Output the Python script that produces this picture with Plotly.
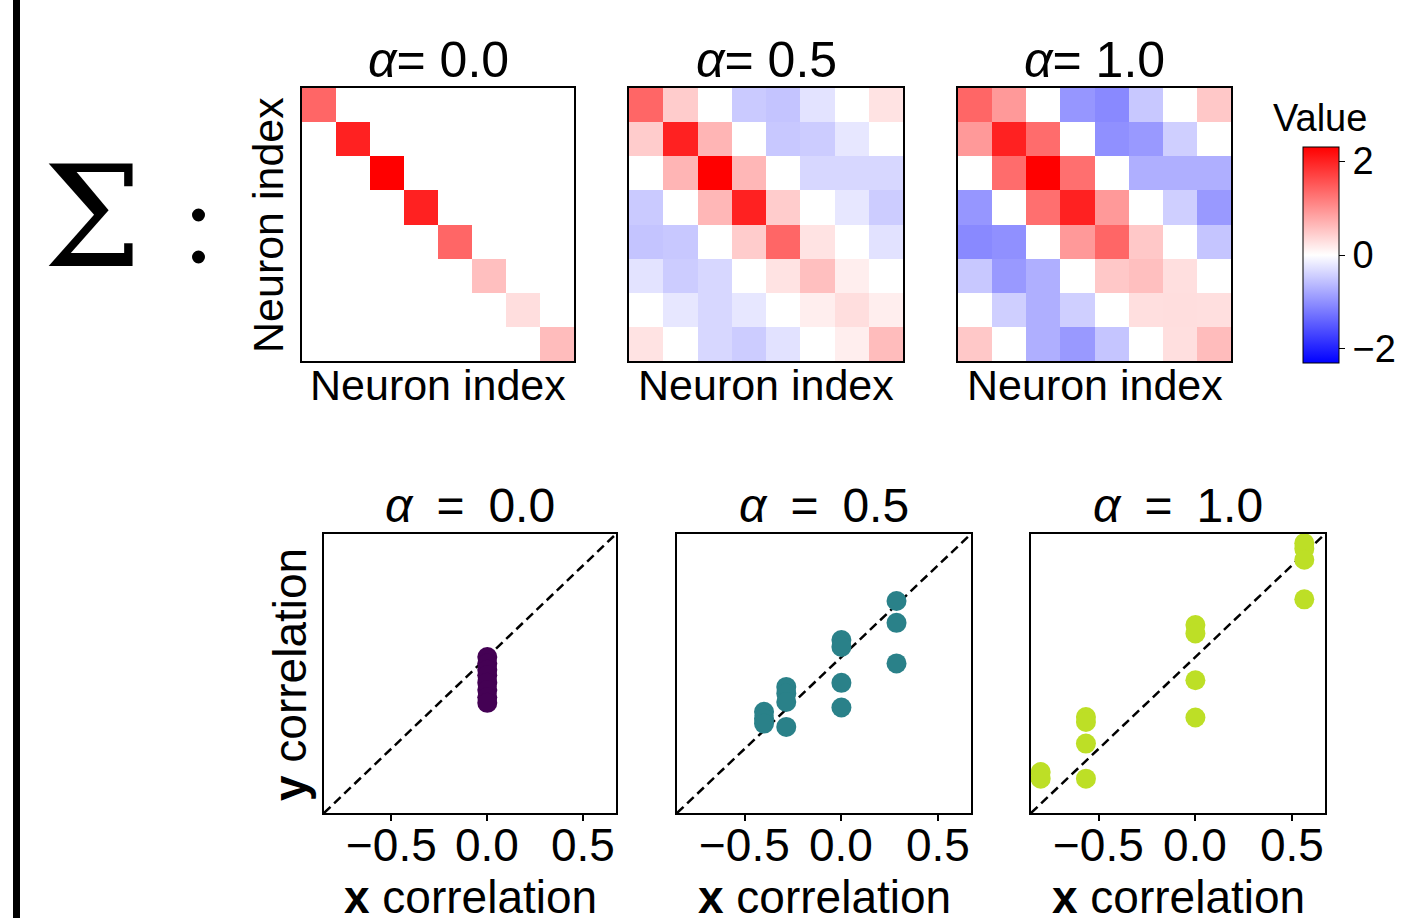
import plotly.graph_objects as go

W, H = 1407, 918
FONT = "Liberation Sans"

# ---------------- data ----------------
alpha_labels = ["0.0", "0.5", "1.0"]

sigma_a00 = [
    [1.38, 0.00, 0.00, 0.00, 0.00, 0.00, 0.00, 0.00],
    [0.00, 2.00, 0.00, 0.00, 0.00, 0.00, 0.00, 0.00],
    [0.00, 0.00, 2.30, 0.00, 0.00, 0.00, 0.00, 0.00],
    [0.00, 0.00, 0.00, 2.00, 0.00, 0.00, 0.00, 0.00],
    [0.00, 0.00, 0.00, 0.00, 1.38, 0.00, 0.00, 0.00],
    [0.00, 0.00, 0.00, 0.00, 0.00, 0.58, 0.00, 0.00],
    [0.00, 0.00, 0.00, 0.00, 0.00, 0.00, 0.30, 0.00],
    [0.00, 0.00, 0.00, 0.00, 0.00, 0.00, 0.00, 0.60],
]
sigma_a05 = [
    [1.38, 0.46, 0.00, -0.48, -0.53, -0.25, 0.00, 0.25],
    [0.46, 2.00, 0.67, 0.00, -0.50, -0.46, -0.22, 0.00],
    [0.00, 0.67, 2.30, 0.65, 0.00, -0.36, -0.36, -0.36],
    [-0.48, 0.00, 0.65, 2.00, 0.46, 0.00, -0.22, -0.46],
    [-0.53, -0.50, 0.00, 0.46, 1.38, 0.25, 0.00, -0.26],
    [-0.25, -0.46, -0.36, 0.00, 0.25, 0.58, 0.15, 0.00],
    [0.00, -0.22, -0.36, -0.22, 0.00, 0.15, 0.30, 0.15],
    [0.25, 0.00, -0.36, -0.46, -0.26, 0.00, 0.15, 0.60],
]
sigma_a10 = [
    [1.38, 0.92, 0.00, -0.95, -1.06, -0.50, 0.00, 0.50],
    [0.92, 2.00, 1.33, 0.00, -1.00, -0.92, -0.43, 0.00],
    [0.00, 1.33, 2.30, 1.30, 0.00, -0.72, -0.72, -0.72],
    [-0.95, 0.00, 1.30, 2.00, 0.92, 0.00, -0.43, -0.92],
    [-1.06, -1.00, 0.00, 0.92, 1.38, 0.50, 0.00, -0.52],
    [-0.50, -0.92, -0.72, 0.00, 0.50, 0.58, 0.29, 0.00],
    [0.00, -0.43, -0.72, -0.43, 0.00, 0.29, 0.30, 0.29],
    [0.50, 0.00, -0.72, -0.92, -0.52, 0.00, 0.29, 0.60],
]
sigmas = [sigma_a00, sigma_a05, sigma_a10]
value_min, value_max = -2.3, 2.3
cbar_ticks = [-2, 0, 2]
cbar_ticktext = ["\u22122", "0", "2"]

x_corr_a00 = [0.0, 0.0, 0.0, 0.0, 0.0, 0.0, 0.0, 0.0]
y_corr_a00 = [0.0, -0.035, -0.07, -0.10, -0.14, -0.18, -0.22, -0.25]
x_corr_a05 = [0.285, 0.285, 0.285, 0.0, 0.0, 0.0, 0.0,
              -0.285, -0.285, -0.285, -0.285, -0.40, -0.40, -0.40]
y_corr_a05 = [0.305, 0.186, -0.035, 0.092, 0.055, -0.141, -0.275,
              -0.163, -0.199, -0.245, -0.381, -0.299, -0.336, -0.363]
x_corr_a10 = [-0.80, -0.80, -0.566, -0.566, -0.566, -0.566, 0.0, 0.0, 0.0, 0.0,
              0.563, 0.563, 0.563, 0.563]
y_corr_a10 = [-0.627, -0.663, -0.327, -0.354, -0.472, -0.663, 0.174, 0.128, -0.127, -0.33,
              0.62, 0.59, 0.53, 0.314]
xs = [x_corr_a00, x_corr_a05, x_corr_a10]
ys = [y_corr_a00, y_corr_a05, y_corr_a10]
scatter_colors = ["#440154", "#2a8189", "#bddf26"]
corr_lims = [-0.85, 0.67]
corr_ticks = [-0.5, 0.0, 0.5]
corr_ticktext = ["\u22120.5", "0.0", "0.5"]

# ---------------- layout helpers ----------------
def dom_x(a, b):
    return [a / W, b / W]

def dom_y(top, bottom):
    return [1 - bottom / H, 1 - top / H]

heat_boxes = [(302, 574, 88, 361), (629, 903, 88, 361), (958, 1231, 88, 361)]
scat_boxes = [(324, 616, 534, 813), (677, 971, 534, 813), (1031, 1325, 534, 813)]

bwr = [[0.0, "rgb(0,0,255)"], [0.5, "rgb(255,255,255)"], [1.0, "rgb(255,0,0)"]]

fig = go.Figure()
layout = dict(
    width=W, height=H, autosize=False,
    margin=dict(l=0, r=0, t=0, b=0),
    paper_bgcolor="white", plot_bgcolor="white",
    showlegend=False,
    font=dict(family=FONT, color="black"),
)

annotations = []
n = 8
idx = list(range(n))

for i, (x0, x1, y0, y1) in enumerate(heat_boxes):
    k = i + 1
    xa = "x" if k == 1 else f"x{k}"
    ya = "y" if k == 1 else f"y{k}"
    tr = go.Heatmap(
        z=sigmas[i], x=idx, y=idx, colorscale=bwr, zmin=value_min, zmax=value_max,
        xaxis=xa, yaxis=ya, showscale=(i == 2), xgap=0, ygap=0,
    )
    if i == 2:
        tr.colorbar = dict(
            x=1303 / W, xanchor="left", xpad=0,
            y=1 - 147 / H, yanchor="top", ypad=0,
            len=216, lenmode="pixels", thickness=36, thicknessmode="pixels",
            outlinewidth=1, outlinecolor="black",
            tickvals=cbar_ticks, ticktext=cbar_ticktext,
            ticks="outside", ticklen=6, tickwidth=1, tickcolor="black",
            tickfont=dict(size=38, family=FONT, color="black"),
        )
    fig.add_trace(tr)
    layout[f"xaxis{'' if k == 1 else k}"] = dict(
        domain=dom_x(x0, x1), anchor=ya, range=[-0.5, n - 0.5],
        showticklabels=False, ticks="", showgrid=False, zeroline=False,
        showline=True, mirror=True, linecolor="black", linewidth=1.5,
    )
    layout[f"yaxis{'' if k == 1 else k}"] = dict(
        domain=dom_y(y0, y1), anchor=xa, range=[n - 0.5, -0.5],
        showticklabels=False, ticks="", showgrid=False, zeroline=False,
        showline=True, mirror=True, linecolor="black", linewidth=1.5,
    )
    cx = (x0 + x1) / 2
    annotations.append(dict(text=f"<i>α</i>= {alpha_labels[i]}", x=cx / W, y=1 - 60 / H,
                            xref="paper", yref="paper", showarrow=False,
                            xanchor="center", yanchor="middle",
                            font=dict(size=50, family=FONT, color="black")))
    annotations.append(dict(text="Neuron index", x=cx / W, y=1 - 385 / H,
                            xref="paper", yref="paper", showarrow=False,
                            xanchor="center", yanchor="middle",
                            font=dict(size=43, family=FONT, color="black")))

annotations.append(dict(text="Neuron index", x=268 / W, y=1 - 225 / H, textangle=-90,
                        xref="paper", yref="paper", showarrow=False,
                        xanchor="center", yanchor="middle",
                        font=dict(size=43, family=FONT, color="black")))
annotations.append(dict(text="Value", x=1320 / W, y=1 - 118 / H,
                        xref="paper", yref="paper", showarrow=False,
                        xanchor="center", yanchor="middle",
                        font=dict(size=38, family=FONT, color="black")))

for i, (x0, x1, y0, y1) in enumerate(scat_boxes):
    k = i + 4
    xa, ya = f"x{k}", f"y{k}"
    fig.add_trace(go.Scatter(
        x=corr_lims, y=corr_lims, mode="lines", xaxis=xa, yaxis=ya,
        line=dict(color="black", width=2.5, dash="9px,5px"), hoverinfo="skip",
    ))
    fig.add_trace(go.Scatter(
        x=xs[i], y=ys[i], mode="markers", xaxis=xa, yaxis=ya,
        marker=dict(size=20, color=scatter_colors[i], line=dict(width=0)),
    ))
    layout[f"xaxis{k}"] = dict(
        domain=dom_x(x0, x1), anchor=ya, range=corr_lims,
        tickvals=corr_ticks, showticklabels=False, ticks="outside",
        ticklen=6, tickwidth=1.5, tickcolor="black",
        showgrid=False, zeroline=False,
        showline=True, mirror=True, linecolor="black", linewidth=1.5,
    )
    layout[f"yaxis{k}"] = dict(
        domain=dom_y(y0, y1), anchor=xa, range=corr_lims,
        showticklabels=False, ticks="", showgrid=False, zeroline=False,
        showline=True, mirror=True, linecolor="black", linewidth=1.5,
    )
    for tv, tt in zip(corr_ticks, corr_ticktext):
        annotations.append(dict(text=tt, x=tv, xref=xa, y=1 - 845 / H, yref="paper",
                                showarrow=False, xanchor="center", yanchor="middle",
                                font=dict(size=46, family=FONT, color="black")))
    cx = (x0 + x1) / 2
    annotations.append(dict(text=f"<i>α</i>\u2002=\u2002{alpha_labels[i]}", x=cx / W, y=1 - 505 / H,
                            xref="paper", yref="paper", showarrow=False,
                            xanchor="center", yanchor="middle",
                            font=dict(size=48, family=FONT, color="black")))
    annotations.append(dict(text="<b>x</b> correlation", x=cx / W, y=1 - 897 / H,
                            xref="paper", yref="paper", showarrow=False,
                            xanchor="center", yanchor="middle",
                            font=dict(size=46, family=FONT, color="black")))

annotations.append(dict(text="<b>y</b> correlation", x=290 / W, y=1 - 675 / H, textangle=-90,
                        xref="paper", yref="paper", showarrow=False,
                        xanchor="center", yanchor="middle",
                        font=dict(size=46, family=FONT, color="black")))

# Sigma label
annotations.append(dict(text="Σ", x=92 / W, y=1 - 218 / H,
                        xref="paper", yref="paper", showarrow=False,
                        xanchor="center", yanchor="middle",
                        font=dict(size=140, family="DejaVu Serif", color="black")))

shapes = [
    dict(type="rect", xref="paper", yref="paper", x0=13 / W, x1=20 / W, y0=0, y1=1,
         fillcolor="black", line=dict(width=0)),
    dict(type="circle", xref="paper", yref="paper",
         x0=192 / W, x1=205 / W, y0=1 - 221.5 / H, y1=1 - 208.5 / H,
         fillcolor="black", line=dict(width=0)),
    dict(type="circle", xref="paper", yref="paper",
         x0=192 / W, x1=205 / W, y0=1 - 263.5 / H, y1=1 - 250.5 / H,
         fillcolor="black", line=dict(width=0)),
]

layout["annotations"] = annotations
layout["shapes"] = shapes
fig.update_layout(**layout)
fig.write_html("out.html")
